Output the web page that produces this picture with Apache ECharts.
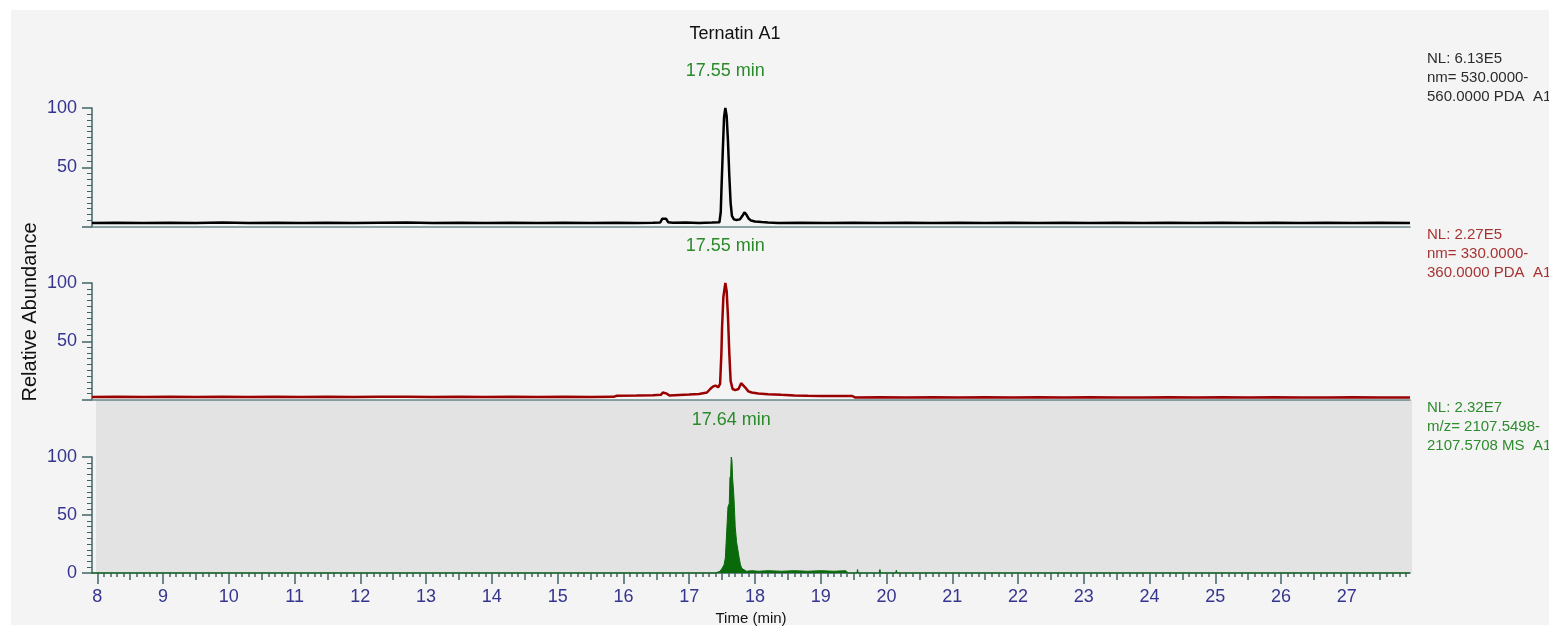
<!DOCTYPE html>
<html>
<head>
<meta charset="utf-8">
<title>Ternatin A1</title>
<script src="https://cdn.jsdelivr.net/npm/echarts@6/dist/echarts.min.js"></script>
<style>
  html, body { margin: 0; padding: 0; background: #fff; }
  #chart { width: 1549px; height: 633px; }
</style>
</head>
<body>
<div id="chart"></div>
<script>
// time range of the run (min)
const tMin = 7.92;
const tMax = 27.96;

const xTickLabels = [8, 9, 10, 11, 12, 13, 14, 15, 16, 17, 18, 19, 20, 21, 22, 23, 24, 25, 26, 27];
const yTickLabels = [0, 50, 100];
const peakTimes = [17.55, 17.55, 17.64];

const channelNotes = [
    'NL: 6.13E5\nnm= 530.0000-\n560.0000 PDA  A1',
    'NL: 2.27E5\nnm= 330.0000-\n360.0000 PDA  A1',
    'NL: 2.32E7\nm/z= 2107.5498-\n2107.5708 MS  A1'
];

// PDA 530-560 nm, [time, relative abundance]
const pdaVis = [
    [7.92,3.0],[8.3,3.2],[8.7,2.9],[9.1,3.1],[9.5,3.0],[9.9,3.3],[10.3,2.9],[10.7,3.1],[11.1,3.0],[11.5,3.2],
    [11.9,2.9],[12.3,3.1],[12.7,3.3],[13.1,3.0],[13.5,3.1],[13.9,2.9],[14.3,3.2],[14.7,3.0],[15.1,3.1],[15.5,2.9],
    [15.9,3.2],[16.2,3.0],[16.45,3.2],[16.56,3.4],[16.59,6.5],[16.62,8.0],[16.65,6.5],[16.68,3.6],[16.75,3.1],
    [16.95,3.3],[17.15,3.0],[17.35,3.3],[17.46,3.6],[17.48,12],[17.49,30],[17.51,62],[17.53,92],[17.55,100],
    [17.57,93],[17.59,72],[17.61,43],[17.63,20],[17.65,9],[17.68,6],[17.72,5.5],[17.77,6],[17.81,9],[17.84,12],
    [17.87,10],[17.90,7],[17.94,5],[18.0,4.2],[18.1,3.7],[18.2,3.4],[18.35,3.0],[18.7,3.1],[19.1,2.9],[19.5,3.2],
    [19.9,3.0],[20.3,3.1],[20.7,2.9],[21.1,3.2],[21.5,3.0],[21.9,3.1],[22.3,2.9],[22.7,3.2],[23.1,3.0],[23.5,3.1],
    [23.9,3.0],[24.3,3.2],[24.7,2.9],[25.1,3.1],[25.5,3.0],[25.9,3.2],[26.3,2.9],[26.7,3.1],[27.1,3.0],[27.5,3.2],
    [27.96,3.0]
];

// PDA 330-360 nm
const pdaUv = [
    [7.92,2.2],[8.3,2.4],[8.7,2.1],[9.1,2.3],[9.5,2.2],[9.9,2.4],[10.3,2.1],[10.7,2.3],[11.1,2.2],[11.5,2.4],
    [11.9,2.1],[12.3,2.3],[12.7,2.4],[13.1,2.2],[13.5,2.3],[13.9,2.1],[14.3,2.4],[14.7,2.2],[15.1,2.3],[15.5,2.2],
    [15.85,2.3],[15.9,3.2],[16.2,3.4],[16.45,3.6],[16.57,4.0],[16.60,6.0],[16.63,7.0],[16.66,5.0],[16.70,3.4],
    [16.85,3.8],[17.0,4.2],[17.15,4.8],[17.27,6.0],[17.32,9.0],[17.36,11],[17.40,12],[17.44,10.5],[17.47,13.5],
    [17.49,40],[17.50,62],[17.52,88],[17.55,100],[17.57,93],[17.59,71],[17.61,40],[17.63,16],[17.66,9],[17.70,8],
    [17.75,9],[17.79,14],[17.82,15],[17.85,10.5],[17.90,7],[17.95,6],[18.05,5.2],[18.2,4.6],[18.4,4.0],[18.6,3.5],
    [18.8,3.2],[19.0,3.0],[19.25,2.9],[19.48,3.0],[19.52,1.8],[19.9,1.9],[20.3,1.7],[20.7,1.9],[21.1,1.8],[21.5,1.9],
    [21.9,1.7],[22.3,1.9],[22.7,1.8],[23.1,1.9],[23.5,1.7],[23.9,1.8],[24.3,1.9],[24.7,1.7],[25.1,1.9],[25.5,1.8],
    [25.9,1.9],[26.3,1.7],[26.7,1.8],[27.1,1.9],[27.5,1.8],[27.96,1.8]
];

// MS XIC m/z 2107.5498-2107.5708
const msXic = [
    [7.92,0],[17.40,0],[17.43,1.0],[17.47,1.5],[17.50,4],[17.53,7],[17.55,13],[17.58,14],[17.59,57],[17.61,60],
    [17.62,82],[17.63,84],[17.64,100],[17.65,97],[17.66,82],[17.68,66],[17.70,40],[17.72,27],[17.74,20],[17.76,13],
    [17.78,7],[17.80,4],[17.83,2.5],[17.87,1.5],[17.95,2.0],[18.05,1.5],[18.2,2.0],[18.4,1.5],[18.6,2.0],[18.8,1.5],
    [19.0,2.0],[19.2,1.5],[19.38,2.0],[19.42,0],[19.55,0],[19.56,3],[19.57,0],[19.89,0],[19.90,3],[19.91,0],
    [20.14,0],[20.15,2.5],[20.16,0],[27.96,0]
];

const traceColors = ['#000000', '#990000', '#0a6a0a'];
const noteColors = ['#2b2b2b', '#a83232', '#2e8b2e'];
const peakColor = '#2a8a2a';
const axisColor = '#3f6464';
const labelColor = '#35358f';
const font = 'Liberation Sans, Arial, sans-serif';

// tick positions for the time axis
const halfTicks = [];
const tenthTicks = [];
for (let k = 80; k <= 279; k++) {
    if (k % 10 === 0) continue;
    if (k % 5 === 0) halfTicks.push(k / 10);
    else tenthTicks.push(k / 10);
}

const grids = [
    { left: 92, width: 1318, top: 108, height: 118.5 },
    { left: 92, width: 1318, top: 283, height: 116.5 },
    { left: 92, width: 1318, top: 457, height: 116 }
];

function yAxisFor(gi, showZero) {
    return {
        type: 'value', gridIndex: gi, min: 0, max: 100, interval: 50,
        axisLine: { show: true, lineStyle: { color: axisColor, width: 1.5 } },
        axisTick: { show: true, length: 10, lineStyle: { color: axisColor, width: 1.5 } },
        minorTick: { show: true, splitNumber: 10, length: 5, lineStyle: { color: axisColor, width: 1 } },
        splitLine: { show: false },
        axisLabel: {
            color: labelColor, fontSize: 18, fontFamily: font, margin: 15,
            formatter: v => (v === 0 && !showZero) ? '' : (yTickLabels.indexOf(v) >= 0 ? String(v) : '')
        }
    };
}

const xAxes = [
    {
        type: 'value', gridIndex: 0, min: tMin, max: tMax,
        axisLine: { show: true, onZero: false, lineStyle: { color: '#6a8888', width: 1.5 } },
        axisTick: { show: false }, axisLabel: { show: false }, splitLine: { show: false }
    },
    {
        type: 'value', gridIndex: 1, min: tMin, max: tMax,
        axisLine: { show: true, onZero: false, lineStyle: { color: '#6a8888', width: 1.5 } },
        axisTick: { show: false }, axisLabel: { show: false }, splitLine: { show: false }
    },
    {
        type: 'value', gridIndex: 2, min: tMin, max: tMax, position: 'bottom', offset: 0,
        name: 'Time (min)', nameLocation: 'middle', nameGap: 38,
        nameTextStyle: { color: '#111', fontSize: 15, fontFamily: font },
        axisLine: { show: true, onZero: false, lineStyle: { color: axisColor, width: 1.5 } },
        axisTick: { show: true, length: 11, customValues: xTickLabels, lineStyle: { color: axisColor, width: 1.5 } },
        axisLabel: { show: true, customValues: xTickLabels, color: labelColor, fontSize: 18, fontFamily: font, margin: 15 },
        splitLine: { show: false }
    },
    {
        type: 'value', gridIndex: 2, min: tMin, max: tMax, position: 'bottom', offset: 0,
        axisLine: { show: false },
        axisTick: { show: true, length: 7, customValues: halfTicks, lineStyle: { color: axisColor, width: 1.5 } },
        axisLabel: { show: false }, splitLine: { show: false }
    },
    {
        type: 'value', gridIndex: 2, min: tMin, max: tMax, position: 'bottom', offset: 0,
        axisLine: { show: false },
        axisTick: { show: true, length: 4, customValues: tenthTicks, lineStyle: { color: axisColor, width: 1.5 } },
        axisLabel: { show: false }, splitLine: { show: false }
    }
];

function peakMark(i) {
    return {
        symbol: 'circle', symbolSize: 1,
        itemStyle: { color: 'rgba(0,0,0,0)' },
        label: {
            show: true, position: 'top', distance: 27,
            color: peakColor, fontSize: 18, fontFamily: font,
            formatter: () => peakTimes[i].toFixed(2) + ' min'
        },
        data: [{ coord: [peakTimes[i], 100] }]
    };
}

const series = [
    {
        type: 'line', name: 'PDA 530-560 nm', xAxisIndex: 0, yAxisIndex: 0, data: pdaVis,
        showSymbol: false, symbol: 'none', clip: false,
        lineStyle: { color: traceColors[0], width: 2.5 }, markPoint: peakMark(0)
    },
    {
        type: 'line', name: 'PDA 330-360 nm', xAxisIndex: 1, yAxisIndex: 1, data: pdaUv,
        showSymbol: false, symbol: 'none', clip: false,
        lineStyle: { color: traceColors[1], width: 2.5 }, markPoint: peakMark(1)
    },
    {
        type: 'line', name: 'MS', xAxisIndex: 2, yAxisIndex: 2, data: msXic,
        showSymbol: false, symbol: 'none', clip: false,
        lineStyle: { color: traceColors[2], width: 1 },
        areaStyle: { color: traceColors[2], opacity: 1 },
        markPoint: peakMark(2)
    }
];

const chart = echarts.init(document.getElementById('chart'));

chart.setOption({
    animation: false,
    backgroundColor: '#ffffff',
    title: {
        text: 'Ternatin A1', left: 730, top: 20, textAlign: 'center',
        textStyle: { color: '#111', fontSize: 18, fontWeight: 'normal', fontFamily: font }
    },
    graphic: [
        { type: 'rect', z: -10, shape: { x: 11, y: 10, width: 1538, height: 615 }, style: { fill: '#f4f4f4' } },
        { type: 'rect', z: -9, shape: { x: 96, y: 400, width: 1316, height: 173 }, style: { fill: '#e3e3e3' } },
        {
            type: 'text', x: 30, y: 312, rotation: Math.PI / 2,
            style: { text: 'Relative Abundance', fill: '#111', font: '20px ' + font, align: 'center', verticalAlign: 'middle' }
        },
        {
            type: 'text', x: 1427, y: 49,
            style: { text: channelNotes[0], fill: noteColors[0], font: '15px ' + font, lineHeight: 19, verticalAlign: 'top' }
        },
        {
            type: 'text', x: 1427, y: 225,
            style: { text: channelNotes[1], fill: noteColors[1], font: '15px ' + font, lineHeight: 19, verticalAlign: 'top' }
        },
        {
            type: 'text', x: 1427, y: 398,
            style: { text: channelNotes[2], fill: noteColors[2], font: '15px ' + font, lineHeight: 19, verticalAlign: 'top' }
        }
    ],
    grid: grids,
    xAxis: xAxes,
    yAxis: [yAxisFor(0, false), yAxisFor(1, false), yAxisFor(2, true)],
    series: series
});
</script>
</body>
</html>
